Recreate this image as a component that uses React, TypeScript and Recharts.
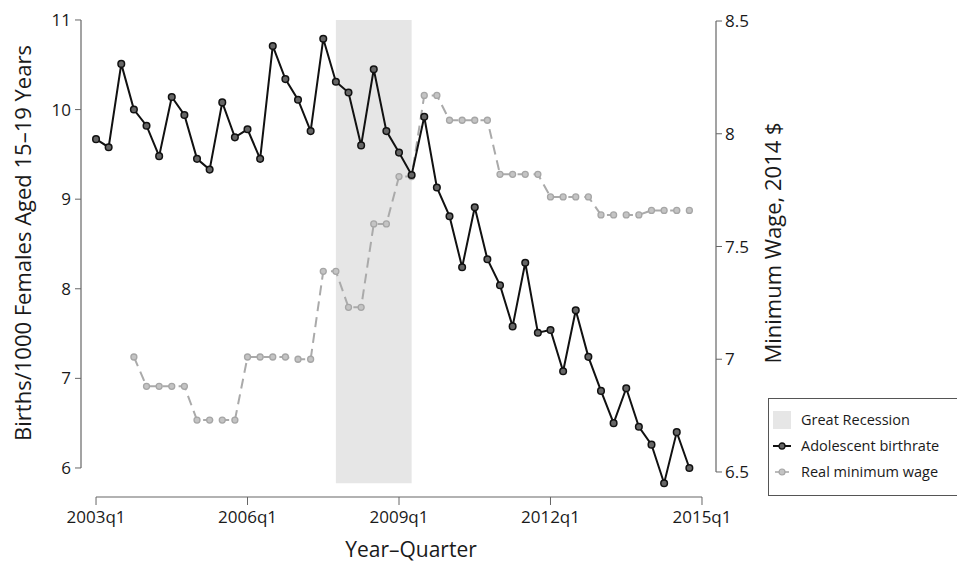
import React from 'react';
import {
  ComposedChart,
  Line,
  XAxis,
  YAxis,
  ReferenceArea,
  ReferenceLine,
} from 'recharts';

// Quarterly series, 2003q1 .. 2014q4
const startYear = 2003;
const quarters = Array.from(
  { length: 48 },
  (_, i) => `${startYear + Math.floor(i / 4)}q${(i % 4) + 1}`
);

// Births per 1000 females aged 15-19 (left axis)
const birthRate = [
  9.67, 9.58, 10.51, 10.0, 9.82, 9.48, 10.14, 9.94, 9.45, 9.33, 10.08, 9.69,
  9.78, 9.45, 10.71, 10.34, 10.11, 9.76, 10.79, 10.31, 10.19, 9.6, 10.45, 9.76,
  9.52, 9.27, 9.92, 9.13, 8.81, 8.24, 8.91, 8.33, 8.04, 7.58, 8.29, 7.51,
  7.54, 7.08, 7.76, 7.24, 6.86, 6.5, 6.89, 6.46, 6.26, 5.83, 6.4, 6.0,
];

// Real minimum wage, 2014 $ (right axis)
const minWage = [
  null, null, null, 7.01, 6.88, 6.88, 6.88, 6.88, 6.73, 6.73, 6.73, 6.73,
  7.01, 7.01, 7.01, 7.01, 7.0, 7.0, 7.39, 7.39, 7.23, 7.23, 7.6, 7.6,
  7.81, 7.81, 8.17, 8.17, 8.06, 8.06, 8.06, 8.06, 7.82, 7.82, 7.82, 7.82,
  7.72, 7.72, 7.72, 7.72, 7.64, 7.64, 7.64, 7.64, 7.66, 7.66, 7.66, 7.66,
];

const xTicks = [0, 12, 24, 36, 48];
const xTickLabels = ['2003q1', '2006q1', '2009q1', '2012q1', '2015q1'];
const leftTicks = [6, 7, 8, 9, 10, 11];
const rightTicks = [6.5, 7, 7.5, 8, 8.5];
const recession = { from: '2007q4', to: '2009q2' };

const data = quarters.map((q, i) => ({
  t: i,
  quarter: q,
  birthRate: birthRate[i],
  minWage: minWage[i],
}));

const X_DOMAIN: [number, number] = [-1.19, 49.11];
const LEFT_DOMAIN: [number, number] = [5.676, 11.089];
const RIGHT_DOMAIN: [number, number] = [6.389, 8.54];

const axisColor = '#666';
const textColor = '#1a1a1a';

export default function App(): React.ReactElement {
  const recStart = quarters.indexOf(recession.from);
  const recEnd = quarters.indexOf(recession.to);

  return (
    <div
      style={{
        position: 'absolute',
        left: 0,
        top: 0,
        width: 957,
        height: 565,
        background: '#fff',
        fontFamily: '"Open Sans", sans-serif',
        overflow: 'hidden',
      }}
    >
      <ComposedChart
        width={957}
        height={565}
        data={data}
        margin={{ top: 12, right: 0, bottom: 0, left: 0 }}
      >
        <ReferenceArea
          x1={recStart}
          x2={recEnd}
          y1={5.83}
          y2={11}
          yAxisId="left"
          fill="#e6e6e6"
          fillOpacity={1}
          stroke="none"
          ifOverflow="visible"
        />
        <XAxis
          dataKey="t"
          type="number"
          domain={X_DOMAIN}
          ticks={xTicks}
          tickFormatter={(v: number) => xTickLabels[xTicks.indexOf(v)] ?? ''}
          axisLine={false}
          tickLine={{ stroke: axisColor }}
          tickSize={8}
          tickMargin={6}
          tick={{ fontSize: 17, fill: textColor }}
          height={68}
          label={{
            content: () => (
              <text
                x={411}
                y={549}
                textAnchor="middle"
                dominantBaseline="central"
                fontSize={21}
                fill={textColor}
              >
                Year–Quarter
              </text>
            ),
          }}
        />
        <YAxis
          yAxisId="left"
          orientation="left"
          width={81}
          type="number"
          domain={LEFT_DOMAIN}
          ticks={leftTicks}
          axisLine={false}
          tickLine={{ stroke: axisColor }}
          tickSize={6}
          tickMargin={4}
          tick={{ fontSize: 17, fill: textColor }}
          label={{
            content: () => (
              <text
                x={22}
                y={243}
                transform="rotate(-90 22 243)"
                textAnchor="middle"
                dominantBaseline="central"
                fontSize={22}
                fill={textColor}
              >
                Births/1000 Females Aged 15–19 Years
              </text>
            ),
          }}
        />
        <YAxis
          yAxisId="right"
          orientation="right"
          width={241}
          type="number"
          domain={RIGHT_DOMAIN}
          ticks={rightTicks}
          tickFormatter={(v: number) => String(v)}
          axisLine={false}
          tickLine={{ stroke: axisColor }}
          tickSize={6}
          tickMargin={3}
          tick={{ fontSize: 17, fill: textColor }}
          label={{
            content: () => (
              <text
                x={772}
                y={243}
                transform="rotate(-90 772 243)"
                textAnchor="middle"
                dominantBaseline="central"
                fontSize={22}
                fill={textColor}
              >
                Minimum Wage, 2014 $
              </text>
            ),
          }}
        />

        {/* detached axis lines, R style */}
        <ReferenceLine
          yAxisId="left"
          segment={[
            { x: X_DOMAIN[0], y: 6 },
            { x: X_DOMAIN[0], y: 11 },
          ]}
          stroke={axisColor}
          strokeWidth={1.2}
          ifOverflow="visible"
        />
        <ReferenceLine
          yAxisId="right"
          segment={[
            { x: X_DOMAIN[1], y: 6.5 },
            { x: X_DOMAIN[1], y: 8.5 },
          ]}
          stroke={axisColor}
          strokeWidth={1.2}
          ifOverflow="visible"
        />
        <ReferenceLine
          yAxisId="left"
          segment={[
            { x: 0, y: LEFT_DOMAIN[0] },
            { x: 48, y: LEFT_DOMAIN[0] },
          ]}
          stroke={axisColor}
          strokeWidth={1.2}
          ifOverflow="visible"
        />

        <Line
          yAxisId="right"
          dataKey="minWage"
          type="linear"
          stroke="#aaaaaa"
          strokeWidth={2}
          strokeDasharray="10 6"
          dot={{ r: 3, fill: '#c4c4c4', stroke: '#a6a6a6', strokeWidth: 1.3, strokeDasharray: '' }}
          connectNulls={false}
          isAnimationActive={false}
        />
        <Line
          yAxisId="left"
          dataKey="birthRate"
          type="linear"
          stroke="#111"
          strokeWidth={2}
          dot={{ r: 3.3, fill: '#666', stroke: '#111', strokeWidth: 1.5 }}
          isAnimationActive={false}
        />
      </ComposedChart>

      {/* legend */}
      <div
        style={{
          position: 'absolute',
          left: 768,
          top: 398,
          width: 200,
          height: 98,
          border: '1px solid #555',
          boxSizing: 'border-box',
          fontSize: 14.5,
          color: textColor,
          padding: '8px 0 0 4px',
          lineHeight: '26px',
        }}
      >
        <div style={{ display: 'flex', alignItems: 'center' }}>
          <span
            style={{
              width: 18,
              height: 18,
              background: '#e6e6e6',
              display: 'inline-block',
              marginRight: 10,
            }}
          />
          Great Recession
        </div>
        <div style={{ display: 'flex', alignItems: 'center' }}>
          <svg width={18} height={10} style={{ marginRight: 10 }}>
            <line x1={0} y1={5} x2={18} y2={5} stroke="#111" strokeWidth={2} />
            <circle cx={9} cy={5} r={3} fill="#666" stroke="#111" strokeWidth={1.3} />
          </svg>
          Adolescent birthrate
        </div>
        <div style={{ display: 'flex', alignItems: 'center' }}>
          <svg width={18} height={10} style={{ marginRight: 10 }}>
            <line x1={2} y1={5} x2={16} y2={5} stroke="#bbb" strokeWidth={2} />
            <circle cx={9} cy={5} r={3} fill="#c4c4c4" stroke="#a6a6a6" strokeWidth={1.2} />
          </svg>
          Real minimum wage
        </div>
      </div>
    </div>
  );
}
